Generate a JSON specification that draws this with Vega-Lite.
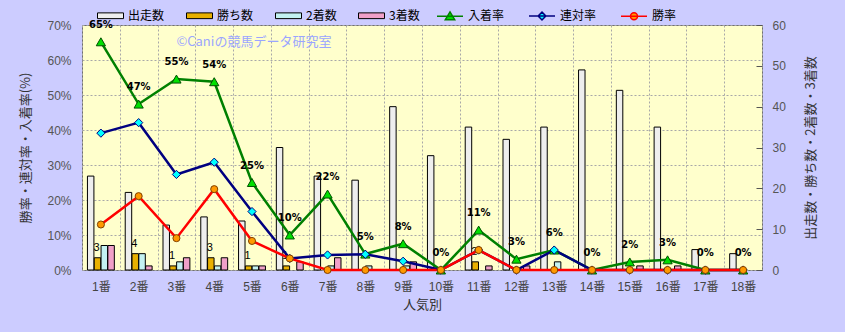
{
"$schema": "https://vega.github.io/schema/vega-lite/v6.json",
"width": 680, "height": 245,
"autosize": {"type": "none"},
"padding": {"left": 82, "top": 25, "right": 83, "bottom": 62},
"background": "#ccccff",
"config": {
 "font": "Liberation Sans, Noto Sans CJK JP, sans-serif",
 "view": {"fill": "#ffffcc", "stroke": "#707070", "strokeWidth": 1},
 "axis": {"domain": false, "labelFont": "Liberation Sans, Noto Sans CJK JP", "labelFontSize": 12, "labelColor": "#555555", "titleFont": "Noto Sans CJK JP", "titleFontSize": 13, "titleFontWeight": "normal", "titleColor": "#333333", "gridColor": "#a8a8a8", "gridDash": [2, 2], "gridWidth": 1},
 "legend": {"orient": "none", "legendY": -23, "direction": "horizontal", "title": null, "padding": 0,
   "symbolSize": 676, "labelFont": "Noto Sans CJK JP", "labelFontSize": 12, "labelColor": "#000000", "labelOffset": 4, "columnPadding": 19}
},
"datasets": {
 "counts": [
  {"rank": "1番", "series": "出走数", "count": 23}, {"rank": "1番", "series": "勝ち数", "count": 3}, {"rank": "1番", "series": "2着数", "count": 6}, {"rank": "1番", "series": "3着数", "count": 6},
  {"rank": "2番", "series": "出走数", "count": 19}, {"rank": "2番", "series": "勝ち数", "count": 4}, {"rank": "2番", "series": "2着数", "count": 4}, {"rank": "2番", "series": "3着数", "count": 1},
  {"rank": "3番", "series": "出走数", "count": 11}, {"rank": "3番", "series": "勝ち数", "count": 1}, {"rank": "3番", "series": "2着数", "count": 2}, {"rank": "3番", "series": "3着数", "count": 3},
  {"rank": "4番", "series": "出走数", "count": 13}, {"rank": "4番", "series": "勝ち数", "count": 3}, {"rank": "4番", "series": "2着数", "count": 1}, {"rank": "4番", "series": "3着数", "count": 3},
  {"rank": "5番", "series": "出走数", "count": 12}, {"rank": "5番", "series": "勝ち数", "count": 1}, {"rank": "5番", "series": "2着数", "count": 1}, {"rank": "5番", "series": "3着数", "count": 1},
  {"rank": "6番", "series": "出走数", "count": 30}, {"rank": "6番", "series": "勝ち数", "count": 1}, {"rank": "6番", "series": "2着数", "count": 0}, {"rank": "6番", "series": "3着数", "count": 2},
  {"rank": "7番", "series": "出走数", "count": 23}, {"rank": "7番", "series": "勝ち数", "count": 0}, {"rank": "7番", "series": "2着数", "count": 1}, {"rank": "7番", "series": "3着数", "count": 3},
  {"rank": "8番", "series": "出走数", "count": 22}, {"rank": "8番", "series": "勝ち数", "count": 0}, {"rank": "8番", "series": "2着数", "count": 1}, {"rank": "8番", "series": "3着数", "count": 0},
  {"rank": "9番", "series": "出走数", "count": 40}, {"rank": "9番", "series": "勝ち数", "count": 0}, {"rank": "9番", "series": "2着数", "count": 1}, {"rank": "9番", "series": "3着数", "count": 2},
  {"rank": "10番", "series": "出走数", "count": 28}, {"rank": "10番", "series": "勝ち数", "count": 0}, {"rank": "10番", "series": "2着数", "count": 0}, {"rank": "10番", "series": "3着数", "count": 0},
  {"rank": "11番", "series": "出走数", "count": 35}, {"rank": "11番", "series": "勝ち数", "count": 2}, {"rank": "11番", "series": "2着数", "count": 0}, {"rank": "11番", "series": "3着数", "count": 1},
  {"rank": "12番", "series": "出走数", "count": 32}, {"rank": "12番", "series": "勝ち数", "count": 0}, {"rank": "12番", "series": "2着数", "count": 0}, {"rank": "12番", "series": "3着数", "count": 1},
  {"rank": "13番", "series": "出走数", "count": 35}, {"rank": "13番", "series": "勝ち数", "count": 0}, {"rank": "13番", "series": "2着数", "count": 2}, {"rank": "13番", "series": "3着数", "count": 0},
  {"rank": "14番", "series": "出走数", "count": 49}, {"rank": "14番", "series": "勝ち数", "count": 0}, {"rank": "14番", "series": "2着数", "count": 0}, {"rank": "14番", "series": "3着数", "count": 0},
  {"rank": "15番", "series": "出走数", "count": 44}, {"rank": "15番", "series": "勝ち数", "count": 0}, {"rank": "15番", "series": "2着数", "count": 0}, {"rank": "15番", "series": "3着数", "count": 1},
  {"rank": "16番", "series": "出走数", "count": 35}, {"rank": "16番", "series": "勝ち数", "count": 0}, {"rank": "16番", "series": "2着数", "count": 0}, {"rank": "16番", "series": "3着数", "count": 1},
  {"rank": "17番", "series": "出走数", "count": 5}, {"rank": "17番", "series": "勝ち数", "count": 0}, {"rank": "17番", "series": "2着数", "count": 0}, {"rank": "17番", "series": "3着数", "count": 0},
  {"rank": "18番", "series": "出走数", "count": 4}, {"rank": "18番", "series": "勝ち数", "count": 0}, {"rank": "18番", "series": "2着数", "count": 0}, {"rank": "18番", "series": "3着数", "count": 0}
 ],
 "rates": [
  {"rank": "1番", "series": "入着率", "rate": 0.652}, {"rank": "2番", "series": "入着率", "rate": 0.474}, {"rank": "3番", "series": "入着率", "rate": 0.5455}, {"rank": "4番", "series": "入着率", "rate": 0.538}, {"rank": "5番", "series": "入着率", "rate": 0.25}, {"rank": "6番", "series": "入着率", "rate": 0.1}, {"rank": "7番", "series": "入着率", "rate": 0.217}, {"rank": "8番", "series": "入着率", "rate": 0.0455}, {"rank": "9番", "series": "入着率", "rate": 0.0752}, {"rank": "10番", "series": "入着率", "rate": 0}, {"rank": "11番", "series": "入着率", "rate": 0.114}, {"rank": "12番", "series": "入着率", "rate": 0.031}, {"rank": "13番", "series": "入着率", "rate": 0.057}, {"rank": "14番", "series": "入着率", "rate": 0}, {"rank": "15番", "series": "入着率", "rate": 0.023}, {"rank": "16番", "series": "入着率", "rate": 0.029}, {"rank": "17番", "series": "入着率", "rate": 0}, {"rank": "18番", "series": "入着率", "rate": 0},
  {"rank": "1番", "series": "連対率", "rate": 0.391}, {"rank": "2番", "series": "連対率", "rate": 0.421}, {"rank": "3番", "series": "連対率", "rate": 0.273}, {"rank": "4番", "series": "連対率", "rate": 0.308}, {"rank": "5番", "series": "連対率", "rate": 0.167}, {"rank": "6番", "series": "連対率", "rate": 0.033}, {"rank": "7番", "series": "連対率", "rate": 0.043}, {"rank": "8番", "series": "連対率", "rate": 0.045}, {"rank": "9番", "series": "連対率", "rate": 0.025}, {"rank": "10番", "series": "連対率", "rate": 0}, {"rank": "11番", "series": "連対率", "rate": 0.057}, {"rank": "12番", "series": "連対率", "rate": 0}, {"rank": "13番", "series": "連対率", "rate": 0.057}, {"rank": "14番", "series": "連対率", "rate": 0}, {"rank": "15番", "series": "連対率", "rate": 0}, {"rank": "16番", "series": "連対率", "rate": 0}, {"rank": "17番", "series": "連対率", "rate": 0}, {"rank": "18番", "series": "連対率", "rate": 0},
  {"rank": "1番", "series": "勝率", "rate": 0.13}, {"rank": "2番", "series": "勝率", "rate": 0.211}, {"rank": "3番", "series": "勝率", "rate": 0.091}, {"rank": "4番", "series": "勝率", "rate": 0.231}, {"rank": "5番", "series": "勝率", "rate": 0.083}, {"rank": "6番", "series": "勝率", "rate": 0.033}, {"rank": "7番", "series": "勝率", "rate": 0}, {"rank": "8番", "series": "勝率", "rate": 0}, {"rank": "9番", "series": "勝率", "rate": 0}, {"rank": "10番", "series": "勝率", "rate": 0}, {"rank": "11番", "series": "勝率", "rate": 0.057}, {"rank": "12番", "series": "勝率", "rate": 0}, {"rank": "13番", "series": "勝率", "rate": 0}, {"rank": "14番", "series": "勝率", "rate": 0}, {"rank": "15番", "series": "勝率", "rate": 0}, {"rank": "16番", "series": "勝率", "rate": 0}, {"rank": "17番", "series": "勝率", "rate": 0}, {"rank": "18番", "series": "勝率", "rate": 0}
 ]
},
"encoding": {
 "x": {"field": "rank", "type": "nominal", "title": "人気別",
  "scale": {"domain": ["1番","2番","3番","4番","5番","6番","7番","8番","9番","10番","11番","12番","13番","14番","15番","16番","17番","18番"], "paddingInner": 0, "paddingOuter": 0},
  "axis": {"labelAngle": 0, "grid": true, "tickBand": "extent", "ticks": false, "labelPadding": 11, "labelColor": "#444444", "titlePadding": 6}}
},
"layer": [
 {"data": {"name": "counts"},
  "encoding": {
   "y": {"field": "count", "type": "quantitative", "scale": {"domain": [0, 60]},
    "axis": {"orient": "right", "values": [0,10,20,30,40,50,60], "grid": false, "ticks": true, "tickSize": -6, "tickColor": "#555555", "labelPadding": 16, "title": "出走数・勝ち数・2着数・3着数", "titleAngle": 270, "titlePadding": 32}},
   "xOffset": {"field": "series", "type": "nominal", "scale": {"domain": ["出走数","勝ち数","2着数","3着数"], "paddingInner": 0.05, "paddingOuter": 0.8}}
  },
  "layer": [
   {"transform": [{"filter": "datum.count > 0"}],
    "mark": {"type": "bar", "stroke": "#000000", "strokeWidth": 1},
    "encoding": {
     "color": {"field": "series", "type": "nominal",
      "scale": {"domain": ["出走数","勝ち数","2着数","3着数"], "range": ["#eeeeee","#e8b000","#c4f2f2","#f0a0c8"]},
      "legend": {"legendX": 15, "symbolType": "M-1,-0.22L1,-0.22L1,0.22L-1,0.22Z", "symbolStrokeColor": "#000000", "symbolStrokeWidth": 1}
     }
    }},
   {"transform": [{"filter": "datum.series === '勝ち数' && datum.count > 0"}],
    "mark": {"type": "text", "baseline": "alphabetic", "align": "center", "dx": -1, "dy": -7, "fontSize": 11, "color": "#000000"},
    "encoding": {"text": {"field": "count", "type": "quantitative"}}}
  ]},
 {"data": {"name": "rates"},
  "encoding": {
   "y": {"field": "rate", "type": "quantitative", "scale": {"domain": [0, 0.7]},
    "axis": {"orient": "left", "format": ".0%", "values": [0,0.1,0.2,0.3,0.4,0.5,0.6,0.7], "grid": true, "ticks": false, "labelPadding": 11, "title": "勝率・連対率・入着率(%)", "titlePadding": 14}}
  },
  "layer": [
   {"mark": {"type": "line", "strokeWidth": 2.5},
    "encoding": {"stroke": {"field": "series", "type": "nominal", "scale": {"domain": ["入着率","連対率","勝率"], "range": ["#008000","#000080","#ff0000"]}, "legend": null}}},
   {"mark": {"type": "point", "filled": true, "opacity": 1, "strokeWidth": 1},
    "encoding": {
     "shape": {"field": "series", "type": "nominal", "scale": {"domain": ["入着率","連対率","勝率"], "range": ["triangle-up","diamond","circle"]}, "legend": null},
     "fill": {"field": "series", "type": "nominal", "scale": {"domain": ["入着率","連対率","勝率"], "range": ["#00e000","#00ffff","#ff9900"]}, "legend": null},
     "stroke": {"field": "series", "type": "nominal", "scale": {"domain": ["入着率","連対率","勝率"], "range": ["#005000","#000080","#804000"]}, "legend": null},
     "size": {"field": "series", "type": "ordinal", "scale": {"domain": ["入着率","連対率","勝率"], "range": [85, 50, 50]}, "legend": null}
    }},
   {"transform": [{"filter": "false"}],
    "mark": {"type": "point", "filled": true, "opacity": 1, "strokeWidth": 1.5},
    "encoding": {
     "shape": {"field": "series", "type": "nominal", "scale": {"domain": ["入着率","連対率","勝率"], "range": ["M-1,0L1,0M0,-0.34L0.36,0.26L-0.36,0.26Z", "M-1,0L1,0M0,-0.3L0.3,0L0,0.3L-0.3,0Z", "M-1,0L1,0M0.27,0A0.27,0.27,0,1,1,-0.27,0A0.27,0.27,0,1,1,0.27,0Z"]}, "legend": {"legendX": 354, "columnPadding": 21, "symbolStrokeWidth": 1.5}},
     "fill": {"field": "series", "type": "nominal", "scale": {"domain": ["入着率","連対率","勝率"], "range": ["#00e000","#00ffff","#ff9900"]}, "legend": {"legendX": 354, "columnPadding": 21, "symbolStrokeWidth": 1.5}},
     "stroke": {"field": "series", "type": "nominal", "scale": {"domain": ["入着率","連対率","勝率"], "range": ["#008000","#000080","#ff0000"]}, "legend": {"legendX": 354, "columnPadding": 21, "symbolStrokeWidth": 1.5}}
    }},
   {"transform": [{"filter": "datum.series === '入着率'"}],
    "mark": {"type": "text", "dy": -17, "fontSize": 10, "fontWeight": "bold", "color": "#000000", "font": "DejaVu Sans"},
    "encoding": {"text": {"field": "rate", "type": "quantitative", "format": ".0%"}}}
  ],
  "resolve": {"scale": {"shape": "independent", "fill": "independent", "stroke": "independent", "size": "independent"}}},
 {"data": {"values": [{"note": "©Caniの競馬データ研究室"}]},
  "mark": {"type": "text", "align": "left", "baseline": "middle", "fontSize": 13, "color": "#9aa5ff", "font": "Noto Sans CJK JP"},
  "encoding": {
   "x": {"datum": "3番", "type": "nominal"},
   "y": {"datum": 0.651, "type": "quantitative", "scale": {"domain": [0, 0.7]}, "axis": null},
   "text": {"field": "note", "type": "nominal"}}}
],
"resolve": {"scale": {"y": "independent"}}
}
